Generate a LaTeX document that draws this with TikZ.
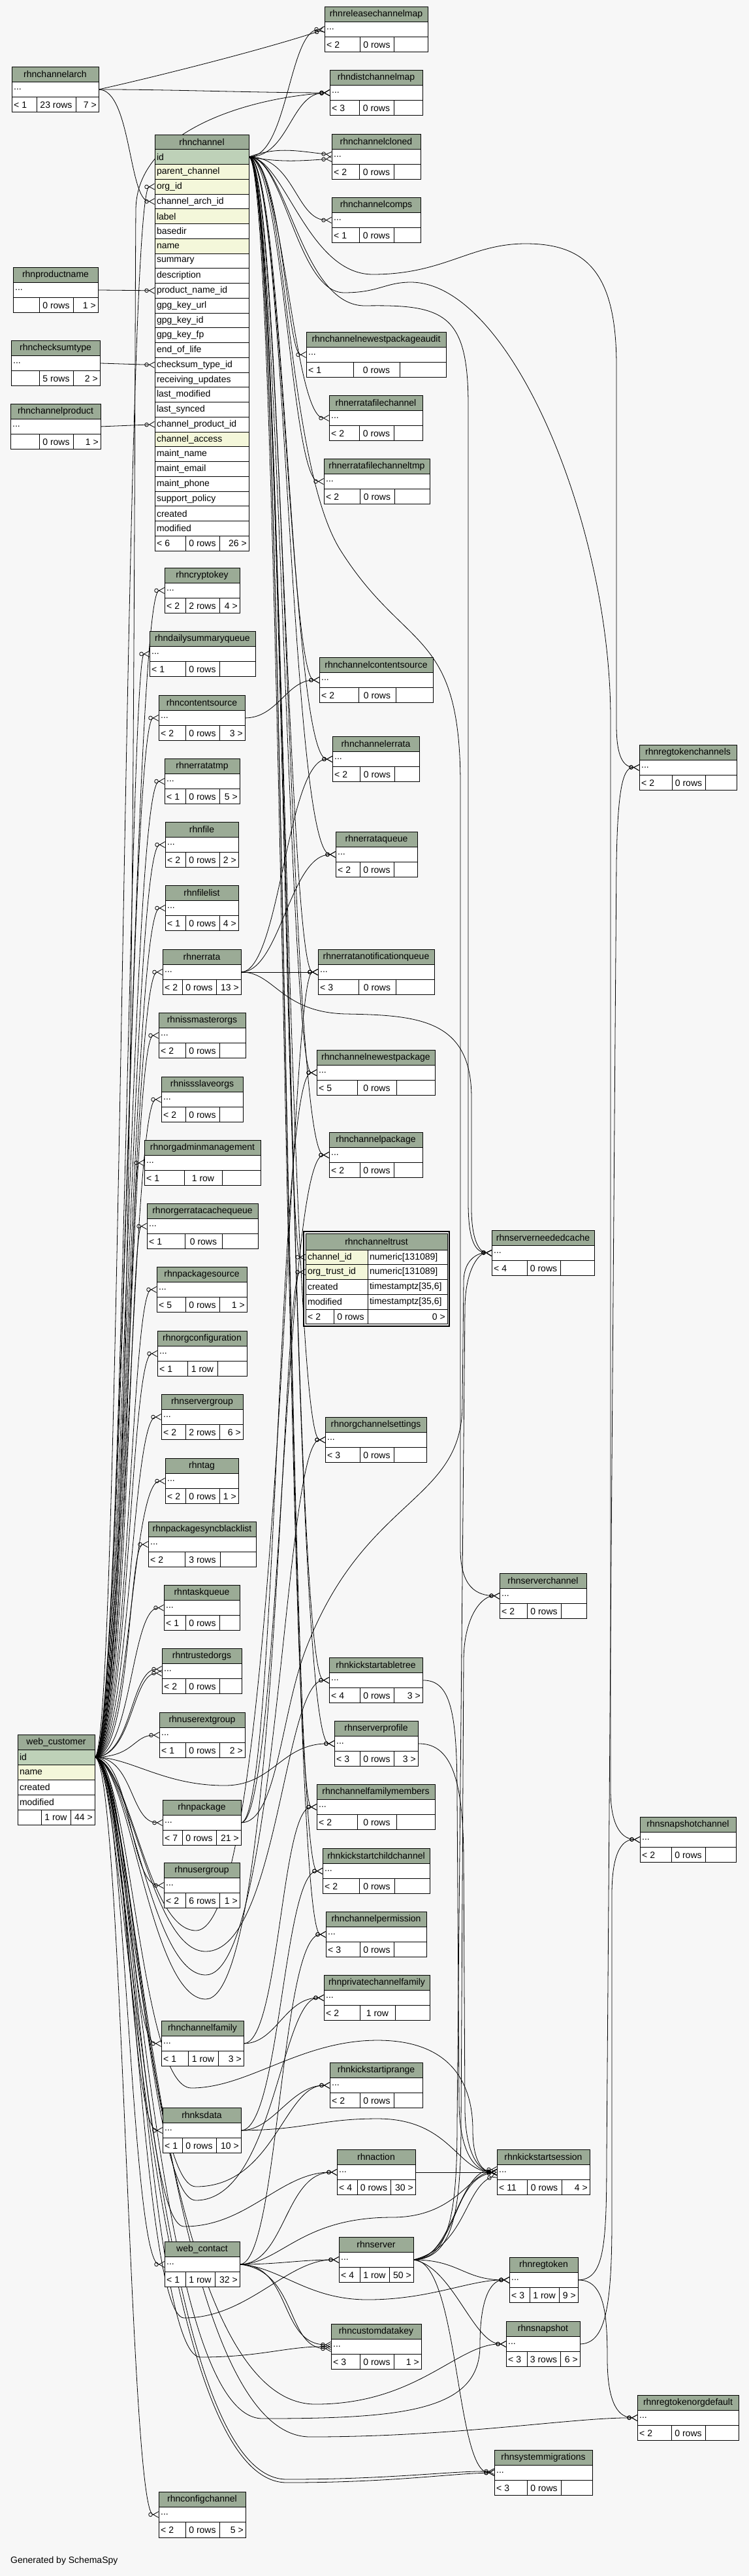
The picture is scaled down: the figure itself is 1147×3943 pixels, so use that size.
\documentclass[tikz,border=0pt]{standalone}
\usepackage{fontspec}
\setmainfont{Liberation Sans}
\usetikzlibrary{arrows.meta, positioning, backgrounds}

\definecolor{pagebg}{HTML}{F7F7F7}
\definecolor{hdrgreen}{HTML}{9BAB96}
\definecolor{idgreen}{HTML}{BED1B8}
\definecolor{idxyellow}{HTML}{F4F7DA}

\tikzset{
    tbl_head/.style={
        rectangle,
        draw=black,
        fill=hdrgreen,
        line width=0.9pt,
        minimum height=23.3pt,
        inner sep=0pt,
        outer sep=0pt
    },
    tbl_body/.style={
        rectangle,
        draw=black,
        fill=white,
        line width=0.9pt,
        minimum height=23.3pt,
        inner sep=0pt,
        outer sep=0pt
    },
    tbl_row/.style={
        rectangle,
        draw=black,
        line width=0.9pt,
        minimum height=22.75pt,
        inner xsep=3pt,
        inner ysep=0pt,
        outer sep=0pt,
        align=left
    },
    tbl_txt/.style={
        inner xsep=3pt,
        inner ysep=0pt
    },
    tbl_line/.style={
        draw=black,
        line width=0.9pt
    },
    fk_edge/.style={
        line width=0.8pt,
        -{Circle[open, length=6.5pt, width=6.5pt] Straight Barb[reversed, length=8pt, width=9pt]}
    }
}

% footer row: node, left, right, divider 1, divider 2, texts
\newcommand{\tblfoot}[8]{
    \draw[tbl_line] (#4,0 |- #1.north) -- (#4,0 |- #1.south);
    \draw[tbl_line] (#5,0 |- #1.north) -- (#5,0 |- #1.south);
    \node[tbl_txt, anchor=west] (#1-l) at (#2,0 |- #1.center) {#6};
    \path (#4,0 |- #1.center) -- node[tbl_txt] (#1-m) {#7} (#5,0 |- #1.center);
    \node[tbl_txt, anchor=east] (#1-r) at (#3,0 |- #1.center) {#8};
}
% collapsed table: name, left, top, right, dividers, footer texts
\newcommand{\dbtable}[9]{
    \node[tbl_head, minimum width=#4pt-#2pt, anchor=north west] (#1-head) at (#2,#3) {\detokenize{#1}};
    \node[tbl_body, minimum width=#4pt-#2pt, below=0pt of #1-head] (#1) {};
    \node[tbl_txt, anchor=west] (#1-dots) at (#1.west) {...};
    \node[tbl_body, minimum width=#4pt-#2pt, below=0pt of #1] (#1-foot) {};
    \tblfoot{#1-foot}{#2}{#4}{#5}{#6}{#7}{#8}{#9}
}

\begin{document}
\begin{tikzpicture}[x=1pt, y=-1pt, font=\fontsize{14pt}{16pt}\selectfont]
\useasboundingbox (0,0) rectangle (1147,3943);

% --- rhnchannel (expanded) ---
\node[tbl_head, minimum width=144pt, minimum height=22.75pt, anchor=north west] (rhnchannel-head) at (237,206) {rhnchannel};
\node[tbl_row, fill=idgreen, text width=138pt, below=0pt of rhnchannel-head] (rhnchannel-id) {id};
\node[tbl_row, fill=idxyellow, text width=138pt, below=0pt of rhnchannel-id] (rhnchannel-parent) {parent\_channel};
\node[tbl_row, fill=idxyellow, text width=138pt, below=0pt of rhnchannel-parent] (rhnchannel-org) {org\_id};
\node[tbl_row, fill=white, text width=138pt, below=0pt of rhnchannel-org] (rhnchannel-arch) {channel\_arch\_id};
\node[tbl_row, fill=idxyellow, text width=138pt, below=0pt of rhnchannel-arch] (rhnchannel-label) {label};
\node[tbl_row, fill=white, text width=138pt, below=0pt of rhnchannel-label] (rhnchannel-basedir) {basedir};
\node[tbl_row, fill=idxyellow, text width=138pt, below=0pt of rhnchannel-basedir] (rhnchannel-name) {name};
\node[tbl_row, fill=white, text width=138pt, below=0pt of rhnchannel-name] (rhnchannel-summary) {summary};
\node[tbl_row, fill=white, text width=138pt, below=0pt of rhnchannel-summary] (rhnchannel-descr) {description};
\node[tbl_row, fill=white, text width=138pt, below=0pt of rhnchannel-descr] (rhnchannel-prodname) {product\_name\_id};
\node[tbl_row, fill=white, text width=138pt, below=0pt of rhnchannel-prodname] (rhnchannel-gpgurl) {gpg\_key\_url};
\node[tbl_row, fill=white, text width=138pt, below=0pt of rhnchannel-gpgurl] (rhnchannel-gpgid) {gpg\_key\_id};
\node[tbl_row, fill=white, text width=138pt, below=0pt of rhnchannel-gpgid] (rhnchannel-gpgfp) {gpg\_key\_fp};
\node[tbl_row, fill=white, text width=138pt, below=0pt of rhnchannel-gpgfp] (rhnchannel-eol) {end\_of\_life};
\node[tbl_row, fill=white, text width=138pt, below=0pt of rhnchannel-eol] (rhnchannel-checksum) {checksum\_type\_id};
\node[tbl_row, fill=white, text width=138pt, below=0pt of rhnchannel-checksum] (rhnchannel-recv) {receiving\_updates};
\node[tbl_row, fill=white, text width=138pt, below=0pt of rhnchannel-recv] (rhnchannel-lastmod) {last\_modified};
\node[tbl_row, fill=white, text width=138pt, below=0pt of rhnchannel-lastmod] (rhnchannel-lastsync) {last\_synced};
\node[tbl_row, fill=white, text width=138pt, below=0pt of rhnchannel-lastsync] (rhnchannel-product) {channel\_product\_id};
\node[tbl_row, fill=idxyellow, text width=138pt, below=0pt of rhnchannel-product] (rhnchannel-access) {channel\_access};
\node[tbl_row, fill=white, text width=138pt, below=0pt of rhnchannel-access] (rhnchannel-mname) {maint\_name};
\node[tbl_row, fill=white, text width=138pt, below=0pt of rhnchannel-mname] (rhnchannel-memail) {maint\_email};
\node[tbl_row, fill=white, text width=138pt, below=0pt of rhnchannel-memail] (rhnchannel-mphone) {maint\_phone};
\node[tbl_row, fill=white, text width=138pt, below=0pt of rhnchannel-mphone] (rhnchannel-policy) {support\_policy};
\node[tbl_row, fill=white, text width=138pt, below=0pt of rhnchannel-policy] (rhnchannel-created) {created};
\node[tbl_row, fill=white, text width=138pt, below=0pt of rhnchannel-created] (rhnchannel-modified) {modified};
\node[tbl_body, minimum width=144pt, minimum height=22.75pt, below=0pt of rhnchannel-modified] (rhnchannel-foot) {};
\tblfoot{rhnchannel-foot}{237}{381}{284}{336}{< 6}{0 rows}{26 >}

% --- web_customer (expanded) ---
\node[tbl_head, minimum width=118pt, minimum height=23pt, anchor=north west] (web_customer-head) at (27,2655) {web\_customer};
\node[tbl_row, fill=idgreen, text width=112pt, minimum height=23pt, below=0pt of web_customer-head] (web_customer-id) {id};
\node[tbl_row, fill=idxyellow, text width=112pt, minimum height=23pt, below=0pt of web_customer-id] (web_customer-name) {name};
\node[tbl_row, fill=white, text width=112pt, minimum height=23pt, below=0pt of web_customer-name] (web_customer-created) {created};
\node[tbl_row, fill=white, text width=112pt, minimum height=23pt, below=0pt of web_customer-created] (web_customer-modified) {modified};
\node[tbl_body, minimum width=118pt, minimum height=23pt, below=0pt of web_customer-modified] (web_customer-foot) {};
\tblfoot{web_customer-foot}{27}{145}{63}{108}{}{1 row}{44 >}

% --- rhnchanneltrust (expanded, focus table) ---
\draw[line width=1.2pt] (465,1885) rectangle (688,2030);
\node[tbl_head, minimum width=217pt, minimum height=25pt, anchor=north west] (rhnchanneltrust-head) at (468,1888) {rhnchanneltrust};
\node[tbl_row, fill=idxyellow, text width=89pt, anchor=north west] (rhnchanneltrust-chan) at (468,1913) {channel\_id};
\node[tbl_row, fill=white, text width=116pt, right=0pt of rhnchanneltrust-chan] (rhnchanneltrust-chantype) {numeric[131089]};
\node[tbl_row, fill=idxyellow, text width=89pt, below=0pt of rhnchanneltrust-chan] (rhnchanneltrust-orgtrust) {org\_trust\_id};
\node[tbl_row, fill=white, text width=116pt, right=0pt of rhnchanneltrust-orgtrust] (rhnchanneltrust-orgtype) {numeric[131089]};
\node[tbl_row, fill=white, text width=89pt, below=0pt of rhnchanneltrust-orgtrust] (rhnchanneltrust-created) {created};
\node[tbl_row, fill=white, text width=116pt, right=0pt of rhnchanneltrust-created] (rhnchanneltrust-createdtype) {timestamptz[35,6]};
\node[tbl_row, fill=white, text width=89pt, below=0pt of rhnchanneltrust-created] (rhnchanneltrust-modified) {modified};
\node[tbl_row, fill=white, text width=116pt, right=0pt of rhnchanneltrust-modified] (rhnchanneltrust-modifiedtype) {timestamptz[35,6]};
\node[tbl_body, minimum width=217pt, minimum height=22.75pt, anchor=north west] (rhnchanneltrust-foot) at (rhnchanneltrust-modified.south west) {};
\tblfoot{rhnchanneltrust-foot}{468}{685}{511}{563}{< 2}{0 rows}{0 >}

% --- collapsed tables ---
\dbtable{rhnreleasechannelmap}{497}{10}{655}{551}{603}{< 2}{0 rows}{}
\dbtable{rhnchannelarch}{18}{102}{151}{56}{116}{< 1}{23 rows}{7 >}
\dbtable{rhndistchannelmap}{505}{107}{647}{550}{603}{< 3}{0 rows}{}
\dbtable{rhnchannelcloned}{508}{205}{644}{550}{603}{< 2}{0 rows}{}
\dbtable{rhnchannelcomps}{508}{302}{644}{550}{603}{< 1}{0 rows}{}
\dbtable{rhnproductname}{20}{409}{150}{60}{112}{}{0 rows}{1 >}
\dbtable{rhnchecksumtype}{17}{521}{153}{60}{112}{}{5 rows}{2 >}
\dbtable{rhnchannelproduct}{16}{618}{154}{60}{112}{}{0 rows}{1 >}
\dbtable{rhnchannelnewestpackageaudit}{469}{508}{683}{541}{612}{< 1}{0 rows}{}
\dbtable{rhnerratafilechannel}{504}{605}{647}{550}{603}{< 2}{0 rows}{}
\dbtable{rhnerratafilechanneltmp}{496}{702}{658}{551}{604}{< 2}{0 rows}{}
\dbtable{rhncryptokey}{252}{869}{367}{284}{336}{< 2}{2 rows}{4 >}
\dbtable{rhndailysummaryqueue}{229}{966}{391}{284}{336}{< 1}{0 rows}{}
\dbtable{rhnchannelcontentsource}{489}{1006}{663}{549}{606}{< 2}{0 rows}{}
\dbtable{rhncontentsource}{243}{1064}{375}{284}{336}{< 2}{0 rows}{3 >}
\dbtable{rhnchannelerrata}{509}{1127}{642}{551}{604}{< 2}{0 rows}{}
\dbtable{rhnerratatmp}{252}{1161}{367}{284}{336}{< 1}{0 rows}{5 >}
\dbtable{rhnregtokenchannels}{979}{1140}{1128}{1029}{1080}{< 2}{0 rows}{}
\dbtable{rhnfile}{253}{1258}{365}{284}{336}{< 2}{0 rows}{2 >}
\dbtable{rhnerrataqueue}{514}{1273}{639}{551}{603}{< 2}{0 rows}{}
\dbtable{rhnfilelist}{253}{1355}{365}{284}{336}{< 1}{0 rows}{4 >}
\dbtable{rhnerrata}{249}{1453}{369}{279}{331}{< 2}{0 rows}{13 >}
\dbtable{rhnerratanotificationqueue}{487}{1453}{665}{549}{606}{< 3}{0 rows}{}
\dbtable{rhnissmasterorgs}{243}{1550}{376}{284}{336}{< 2}{0 rows}{}
\dbtable{rhnchannelnewestpackage}{485}{1607}{666}{547}{607}{< 5}{0 rows}{}
\dbtable{rhnissslaveorgs}{247}{1648}{372}{284}{336}{< 2}{0 rows}{}
\dbtable{rhnorgadminmanagement}{221}{1745}{399}{282}{340}{< 1}{1 row}{}
\dbtable{rhnchannelpackage}{504}{1733}{647}{551}{603}{< 2}{0 rows}{}
\dbtable{rhnorgerratacachequeue}{225}{1842}{395}{283}{340}{< 1}{0 rows}{}
\dbtable{rhnserverneededcache}{753}{1883}{910}{807}{858}{< 4}{0 rows}{}
\dbtable{rhnpackagesource}{240}{1939}{378}{284}{336}{< 5}{0 rows}{1 >}
\dbtable{rhnorgconfiguration}{241}{2037}{378}{287}{333}{< 1}{1 row}{}
\dbtable{rhnservergroup}{247}{2134}{372}{284}{336}{< 2}{2 rows}{6 >}
\dbtable{rhnorgchannelsettings}{498}{2169}{653}{551}{603}{< 3}{0 rows}{}
\dbtable{rhntag}{253}{2232}{365}{284}{336}{< 2}{0 rows}{1 >}
\dbtable{rhnpackagesyncblacklist}{227}{2329}{392}{283}{337}{< 2}{3 rows}{}
\dbtable{rhntaskqueue}{251}{2426}{367}{284}{336}{< 1}{0 rows}{}
\dbtable{rhnserverchannel}{765}{2408}{898}{807}{859}{< 2}{0 rows}{}
\dbtable{rhntrustedorgs}{248}{2523}{370}{284}{336}{< 2}{0 rows}{}
\dbtable{rhnkickstartabletree}{504}{2537}{647}{551}{603}{< 4}{0 rows}{3 >}
\dbtable{rhnuserextgroup}{244}{2621}{375}{284}{336}{< 1}{0 rows}{2 >}
\dbtable{rhnserverprofile}{512}{2634}{640}{551}{603}{< 3}{0 rows}{3 >}
\dbtable{rhnpackage}{249}{2755}{369}{279}{331}{< 7}{0 rows}{21 >}
\dbtable{rhnchannelfamilymembers}{485}{2731}{666}{547}{607}{< 2}{0 rows}{}
\dbtable{rhnsnapshotchannel}{980}{2781}{1127}{1028}{1080}{< 2}{0 rows}{}
\dbtable{rhnkickstartchildchannel}{494}{2829}{658}{550}{604}{< 2}{0 rows}{}
\dbtable{rhnusergroup}{251}{2851}{367}{284}{336}{< 2}{6 rows}{1 >}
\dbtable{rhnchannelpermission}{499}{2926}{653}{551}{603}{< 3}{0 rows}{}
\dbtable{rhnprivatechannelfamily}{496}{3023}{658}{551}{605}{< 2}{1 row}{}
\dbtable{rhnchannelfamily}{247}{3093}{373}{288}{334}{< 1}{1 row}{3 >}
\dbtable{rhnkickstartiprange}{505}{3157}{647}{551}{603}{< 2}{0 rows}{}
\dbtable{rhnksdata}{249}{3226}{369}{279}{331}{< 1}{0 rows}{10 >}
\dbtable{rhnaction}{516}{3290}{636}{547}{598}{< 4}{0 rows}{30 >}
\dbtable{rhnkickstartsession}{761}{3290}{903}{807}{860}{< 11}{0 rows}{4 >}
\dbtable{web_contact}{252}{3431}{367}{284}{329}{< 1}{1 row}{32 >}
\dbtable{rhnserver}{519}{3424}{633}{551}{596}{< 4}{1 row}{50 >}
\dbtable{rhnregtoken}{780}{3455}{885}{811}{856}{< 3}{1 row}{9 >}
\dbtable{rhncustomdatakey}{507}{3557}{645}{551}{603}{< 3}{0 rows}{1 >}
\dbtable{rhnsnapshot}{775}{3553}{888}{807}{858}{< 3}{3 rows}{6 >}
\dbtable{rhnregtokenorgdefault}{976}{3666}{1131}{1028}{1080}{< 2}{0 rows}{}
\dbtable{rhnsystemmigrations}{757}{3750}{907}{807}{859}{< 3}{0 rows}{}
\dbtable{rhnconfigchannel}{243}{3814}{376}{284}{336}{< 2}{0 rows}{5 >}

\node[tbl_txt, anchor=west] (credit) at (13,3920) {Generated by SchemaSpy};

\begin{scope}[on background layer]
\fill[pagebg] (0,0) rectangle (1147,3943);

% --- Edges: small parents of rhnchannel ---
\draw[fk_edge] (rhnchannelarch.east) .. controls +(90,-20) and +(-90,30) .. (rhnreleasechannelmap.west);
\draw[fk_edge] (rhnchannelarch.east) .. controls +(120,0) and +(-120,0) .. (rhndistchannelmap.west);
\draw[fk_edge] (rhnchannelarch.east) .. controls +(50,0) and +(-40,0) .. (rhnchannel-arch.west);
\draw[fk_edge] (rhnproductname.east) -- (rhnchannel-prodname.west);
\draw[fk_edge] (rhnchecksumtype.east) -- (rhnchannel-checksum.west);
\draw[fk_edge] (rhnchannelproduct.east) -- (rhnchannel-product.west);

% --- Edges: rhnchannel to its children ---
\draw[fk_edge] (rhnchannel-id.east) .. controls +(60,0) and +(-55,0) .. (rhnreleasechannelmap.west);
\draw[fk_edge] (rhnchannel-id.east) .. controls +(62,0) and +(-60,0) .. (rhndistchannelmap.west);
\draw[fk_edge] (rhnchannel-id.east) .. controls +(45,-16) and +(-55,-6) .. ([yshift=3pt]rhnchannelcloned.west);
\draw[fk_edge] (rhnchannel-id.east) .. controls +(45,8) and +(-55,4) .. ([yshift=-3pt]rhnchannelcloned.west);
\draw[fk_edge] (rhnchannel-id.east) .. controls +(70,0) and +(-55,0) .. (rhnchannelcomps.west);
\draw[fk_edge] (rhnchannel-id.east) .. controls +(50,0) and +(-30,0) .. (rhnchannelnewestpackageaudit.west);
\draw[fk_edge] (rhnchannel-id.east) .. controls +(52,0) and +(-55,0) .. (rhnerratafilechannel.west);
\draw[fk_edge] (rhnchannel-id.east) .. controls +(52,0) and +(-50,0) .. (rhnerratafilechanneltmp.west);
\draw[fk_edge] (rhnchannel-id.east) .. controls +(48,0) and +(-45,0) .. (rhnchannelcontentsource.west);
\draw[fk_edge] (rhnchannel-id.east) .. controls +(55,0) and +(-65,0) .. (rhnchannelerrata.west);
\draw[fk_edge] (rhnchannel-id.east) .. controls +(56,0) and +(-70,0) .. (rhnerrataqueue.west);
\draw[fk_edge] (rhnchannel-id.east) .. controls +(46,0) and +(-45,0) .. (rhnerratanotificationqueue.west);
\draw[fk_edge] (rhnchannel-id.east) .. controls +(44,0) and +(-42,0) .. (rhnchannelnewestpackage.west);
\draw[fk_edge] (rhnchannel-id.east) .. controls +(54,0) and +(-62,0) .. (rhnchannelpackage.west);
\draw[fk_edge] (rhnchannel-id.east) .. controls +(46,0) and +(-30,0) .. (rhnchanneltrust-chan.west);
\draw[fk_edge] (rhnchannel-id.east) .. controls +(50,0) and +(-58,0) .. (rhnorgchannelsettings.west);
\draw[fk_edge] (rhnchannel-id.east) .. controls +(56,0) and +(-62,0) .. (rhnkickstartabletree.west);
\draw[fk_edge] (rhnchannel-id.east) .. controls +(58,0) and +(-72,0) .. (rhnserverprofile.west);
\draw[fk_edge] (rhnchannel-id.east) .. controls +(48,0) and +(-45,0) .. (rhnchannelfamilymembers.west);
\draw[fk_edge] (rhnchannel-id.east) .. controls +(54,0) and +(-55,0) .. (rhnkickstartchildchannel.west);
\draw[fk_edge] (rhnchannel-id.east) .. controls +(56,0) and +(-62,0) .. (rhnchannelpermission.west);
\draw[fk_edge] (rhnchannel-id.east) .. controls (440,240) and (460,470) .. (560,468) .. controls (680,466) and (717,480) .. (717,620) -- (717,1840) .. controls (717,1900) and (728,1917) .. (rhnserverneededcache.west);
\draw[fk_edge] (rhnchannel-id.east) .. controls (440,240) and (435,700) .. (520,840) .. controls (620,1000) and (705,960) .. (705,1200) -- (705,2370) .. controls (705,2430) and (730,2442) .. (rhnserverchannel.west);
\draw[fk_edge] (rhnchannel-id.east) .. controls (435,240) and (470,420) .. (571,420) .. controls (680,420) and (720,373) .. (805,373) .. controls (900,373) and (944,420) .. (944,560) -- (944,1110) .. controls (944,1160) and (955,1174) .. (rhnregtokenchannels.west);
\draw[fk_edge] (rhnchannel-id.east) .. controls (435,240) and (455,448) .. (527,448) .. controls (580,448) and (590,432) .. (629,432) .. controls (780,432) and (935,800) .. (935,1100) -- (935,2740) .. controls (935,2800) and (955,2815) .. (rhnsnapshotchannel.west);

% --- Edges: errata, content source, package ---
\draw[fk_edge] (rhnerrata.east) .. controls +(60,0) and +(-70,0) .. (rhnchannelerrata.west);
\draw[fk_edge] (rhnerrata.east) .. controls +(60,0) and +(-70,0) .. (rhnerrataqueue.west);
\draw[fk_edge] (rhnerrata.east) -- (rhnerratanotificationqueue.west);
\draw[fk_edge] (rhnerrata.east) .. controls (420,1487) and (430,1550) .. (530,1552) .. controls (640,1554) and (722,1560) .. (722,1680) -- (722,1850) .. controls (722,1900) and (735,1917) .. (rhnserverneededcache.west);
\draw[fk_edge] (rhncontentsource.east) .. controls +(50,0) and +(-50,0) .. (rhnchannelcontentsource.west);
\draw[fk_edge] (rhnpackage.east) .. controls +(55,0) and +(-60,0) .. (rhnchannelnewestpackage.west);
\draw[fk_edge] (rhnpackage.east) .. controls +(60,0) and +(-70,0) .. (rhnchannelpackage.west);
\draw[fk_edge] (rhnpackage.east) .. controls (425,2790) and (430,2620) .. (470,2520) .. controls (560,2290) and (708,2300) .. (708,2150) -- (710,1960) .. controls (711,1925) and (735,1917) .. (rhnserverneededcache.west);

% --- Edges: channel family and kickstart ---
\draw[fk_edge] (rhnchannelfamily.east) .. controls +(50,0) and +(-60,0) .. (rhnprivatechannelfamily.west);
\draw[fk_edge] (rhnchannelfamily.east) .. controls +(55,0) and +(-55,0) .. (rhnchannelfamilymembers.west);
\draw[fk_edge] (rhnksdata.east) .. controls +(50,0) and +(-60,0) .. (rhnkickstartiprange.west);
\draw[fk_edge] (rhnksdata.east) .. controls +(60,0) and +(-60,0) .. (rhnkickstartchildchannel.west);
\draw[fk_edge] (rhnksdata.east) .. controls (470,3260) and (490,3243) .. (578,3243) .. controls (690,3243) and (700,3324) .. (rhnkickstartsession.west);
\draw[fk_edge] (rhnkickstartabletree.east) .. controls (690,2571) and (700,2620) .. (700,2750) -- (703,3220) .. controls (704,3300) and (730,3324) .. (rhnkickstartsession.west);
\draw[fk_edge] (rhnserverprofile.east) .. controls (690,2668) and (710,2720) .. (710,2850) -- (712,3230) .. controls (713,3300) and (735,3324) .. (rhnkickstartsession.west);
\draw[fk_edge] (rhnaction.east) -- (rhnkickstartsession.west);

% --- Edges: web_contact ---
\draw[fk_edge] (web_contact.east) .. controls +(60,0) and +(-60,0) .. (rhnserver.west);
\draw[fk_edge] (web_contact.east) .. controls +(70,0) and +(-80,0) .. (rhnaction.west);
\draw[fk_edge] (web_contact.east) .. controls +(60,0) and +(-70,0) .. (rhnchannelpermission.west);
\draw[fk_edge] (web_contact.east) .. controls (430,3465) and (460,3394) .. (600,3394) .. controls (700,3394) and (720,3324) .. (rhnkickstartsession.west);
\draw[fk_edge] (web_contact.east) .. controls (430,3470) and (470,3520) .. (563,3520) .. controls (660,3520) and (720,3489) .. (rhnregtoken.west);
\draw[fk_edge] (web_contact.east) .. controls +(80,0) and +(-80,0) .. ([yshift=3pt]rhncustomdatakey.west);
\draw[fk_edge] (web_contact.east) .. controls +(90,10) and +(-70,0) .. ([yshift=-3pt]rhncustomdatakey.west);

% --- Edges: rhnserver, rhnregtoken, rhnsnapshot ---
\draw[fk_edge] (rhnserver.east) .. controls +(60,0) and +(-60,0) .. ([yshift=4pt]rhnkickstartsession.west);
\draw[fk_edge] (rhnserver.east) .. controls +(70,-10) and +(-70,10) .. (rhnkickstartsession.west);
\draw[fk_edge] (rhnserver.east) .. controls +(80,-20) and +(-50,20) .. ([yshift=-4pt]rhnkickstartsession.west);
\draw[fk_edge] (rhnserver.east) .. controls +(70,0) and +(-70,0) .. (rhnregtoken.west);
\draw[fk_edge] (rhnserver.east) .. controls +(60,10) and +(-50,0) .. (rhnsnapshot.west);
\draw[fk_edge] (rhnserver.east) .. controls +(70,0) and +(-60,0) .. (rhnsystemmigrations.west);
\draw[fk_edge] (rhnserver.east) .. controls (690,3458) and (700,3380) .. (700,3250) -- (712,2000) .. controls (713,1940) and (735,1917) .. (rhnserverneededcache.west);
\draw[fk_edge] (rhnserver.east) .. controls (695,3458) and (706,3380) .. (706,3250) -- (710,2540) .. controls (711,2470) and (740,2442) .. (rhnserverchannel.west);
\draw[fk_edge] (rhnregtoken.east) .. controls (925,3489) and (929,3440) .. (929,3300) -- (944,1320) .. controls (946,1200) and (955,1174) .. (rhnregtokenchannels.west);
\draw[fk_edge] (rhnregtoken.east) .. controls (925,3489) and (930,3540) .. (930,3610) .. controls (930,3685) and (950,3700) .. (rhnregtokenorgdefault.west);
\draw[fk_edge] (rhnsnapshot.east) .. controls (925,3587) and (937,3540) .. (937,3400) -- (937,2900) .. controls (937,2830) and (955,2815) .. (rhnsnapshotchannel.west);

% --- Edges: web_customer, upper left column ---
\draw[fk_edge] (web_customer-id.east) .. controls (185,2690) and (190,287) .. (rhnchannel-org.west);
\draw[fk_edge] (web_customer-id.east) .. controls (208,2690) and (205,700) .. (208,320) .. controls (210,200) and (380,150) .. (rhndistchannelmap.west);
\draw[fk_edge] (web_customer-id.east) .. controls +(40,0) and +(-48,0) .. (rhncryptokey.west);
\draw[fk_edge] (web_customer-id.east) .. controls +(41,0) and +(-30,0) .. (rhndailysummaryqueue.west);
\draw[fk_edge] (web_customer-id.east) .. controls +(42,0) and +(-45,0) .. (rhncontentsource.west);
\draw[fk_edge] (web_customer-id.east) .. controls +(43,0) and +(-52,0) .. (rhnerratatmp.west);
\draw[fk_edge] (web_customer-id.east) .. controls +(44,0) and +(-52,0) .. (rhnfile.west);
\draw[fk_edge] (web_customer-id.east) .. controls +(45,0) and +(-52,0) .. (rhnfilelist.west);
\draw[fk_edge] (web_customer-id.east) .. controls +(46,0) and +(-48,0) .. (rhnerrata.west);
\draw[fk_edge] (web_customer-id.east) .. controls +(47,0) and +(-42,0) .. (rhnissmasterorgs.west);
\draw[fk_edge] (web_customer-id.east) .. controls +(48,0) and +(-45,0) .. (rhnissslaveorgs.west);
\draw[fk_edge] (web_customer-id.east) .. controls +(49,0) and +(-22,0) .. (rhnorgadminmanagement.west);
\draw[fk_edge] (web_customer-id.east) .. controls +(50,0) and +(-26,0) .. (rhnorgerratacachequeue.west);
\draw[fk_edge] (web_customer-id.east) .. controls +(51,0) and +(-40,0) .. (rhnpackagesource.west);
\draw[fk_edge] (web_customer-id.east) .. controls +(52,0) and +(-42,0) .. (rhnorgconfiguration.west);
\draw[fk_edge] (web_customer-id.east) .. controls +(53,0) and +(-46,0) .. (rhnservergroup.west);
\draw[fk_edge] (web_customer-id.east) .. controls +(54,0) and +(-52,0) .. (rhntag.west);
\draw[fk_edge] (web_customer-id.east) .. controls +(55,0) and +(-30,0) .. (rhnpackagesyncblacklist.west);
\draw[fk_edge] (web_customer-id.east) .. controls +(56,0) and +(-50,0) .. (rhntaskqueue.west);
\draw[fk_edge] (web_customer-id.east) .. controls +(57,0) and +(-48,0) .. ([yshift=3pt]rhntrustedorgs.west);
\draw[fk_edge] (web_customer-id.east) .. controls +(58,0) and +(-46,0) .. ([yshift=-3pt]rhntrustedorgs.west);
\draw[fk_edge] (web_customer-id.east) .. controls +(60,0) and +(-40,0) .. (rhnuserextgroup.west);

% --- Edges: web_customer, lower left column ---
\draw[fk_edge] (web_customer-id.east) .. controls +(60,0) and +(-50,0) .. (rhnpackage.west);
\draw[fk_edge] (web_customer-id.east) .. controls +(55,0) and +(-52,0) .. (rhnusergroup.west);
\draw[fk_edge] (web_customer-id.east) .. controls +(50,0) and +(-48,0) .. (rhnchannelfamily.west);
\draw[fk_edge] (web_customer-id.east) .. controls +(48,0) and +(-50,0) .. (rhnksdata.west);
\draw[fk_edge] (web_customer-id.east) .. controls +(46,0) and +(-52,0) .. (web_contact.west);
\draw[fk_edge] (web_customer-id.east) .. controls +(42,0) and +(-45,0) .. (rhnconfigchannel.west);

% --- Edges: web_customer, middle column ---
\draw[fk_edge] (web_customer-id.east) .. controls (200,2690) and (250,2733) .. (344,2733) .. controls (420,2733) and (430,2668) .. (rhnserverprofile.west);
\draw[fk_edge] (web_customer-id.east) .. controls (200,2700) and (225,2955) .. (300,2955) .. controls (430,2955) and (440,1487) .. (rhnerratanotificationqueue.west);
\draw[fk_edge] (web_customer-id.east) .. controls (200,2700) and (230,2987) .. (315,2987) .. controls (425,2987) and (435,2571) .. (rhnkickstartabletree.west);
\draw[fk_edge] (web_customer-id.east) .. controls (200,2700) and (230,3023) .. (315,3023) .. controls (425,3023) and (435,2203) .. (rhnorgchannelsettings.west);
\draw[fk_edge] (web_customer-id.east) .. controls (200,2700) and (230,3060) .. (315,3060) .. controls (428,3060) and (430,1947) .. (rhnchanneltrust-orgtrust.west);
\draw[fk_edge] (web_customer-id.east) .. controls (200,2700) and (225,3347) .. (300,3347) .. controls (420,3347) and (435,3191) .. (rhnkickstartiprange.west);
\draw[fk_edge] (web_customer-id.east) .. controls (200,2700) and (225,3368) .. (300,3368) .. controls (420,3368) and (430,3057) .. (rhnprivatechannelfamily.west);
\draw[fk_edge] (web_customer-id.east) .. controls (200,2700) and (215,3408) .. (282,3408) .. controls (380,3408) and (430,3324) .. (rhnaction.west);
\draw[fk_edge] (web_customer-id.east) .. controls (200,2700) and (215,3548) .. (282,3548) .. controls (380,3548) and (440,3458) .. (rhnserver.west);
\draw[fk_edge] (web_customer-id.east) .. controls (200,2700) and (225,3608) .. (307,3608) .. controls (400,3608) and (440,3591) .. (rhncustomdatakey.west);

% --- Edges: web_customer, right column ---
\draw[fk_edge] (web_customer-id.east) .. controls (200,2700) and (215,3196) .. (293,3196) .. controls (380,3196) and (460,3123) .. (578,3123) .. controls (700,3123) and (724,3200) .. (724,3260) .. controls (724,3310) and (740,3324) .. (rhnkickstartsession.west);
\draw[fk_edge] (web_customer-id.east) .. controls (205,2700) and (225,3680) .. (483,3680) .. controls (640,3680) and (700,3587) .. (rhnsnapshot.west);
\draw[fk_edge] (web_customer-id.east) .. controls (205,2700) and (230,3702) .. (402,3702) .. controls (620,3702) and (735,3690) .. (735,3590) .. controls (735,3510) and (755,3489) .. (rhnregtoken.west);
\draw[fk_edge] (web_customer-id.east) .. controls (210,2700) and (240,3730) .. (475,3730) .. controls (700,3730) and (880,3700) .. (rhnregtokenorgdefault.west);
\draw[fk_edge] (web_customer-id.east) .. controls (200,2700) and (225,3795) .. (439,3795) .. controls (600,3795) and (690,3782) .. ([yshift=2pt]rhnsystemmigrations.west);
\draw[fk_edge] (web_customer-id.east) .. controls (195,2700) and (220,3800) .. (439,3800) .. controls (600,3800) and (690,3786) .. (rhnsystemmigrations.west);
\end{scope}

\end{tikzpicture}
\end{document}
